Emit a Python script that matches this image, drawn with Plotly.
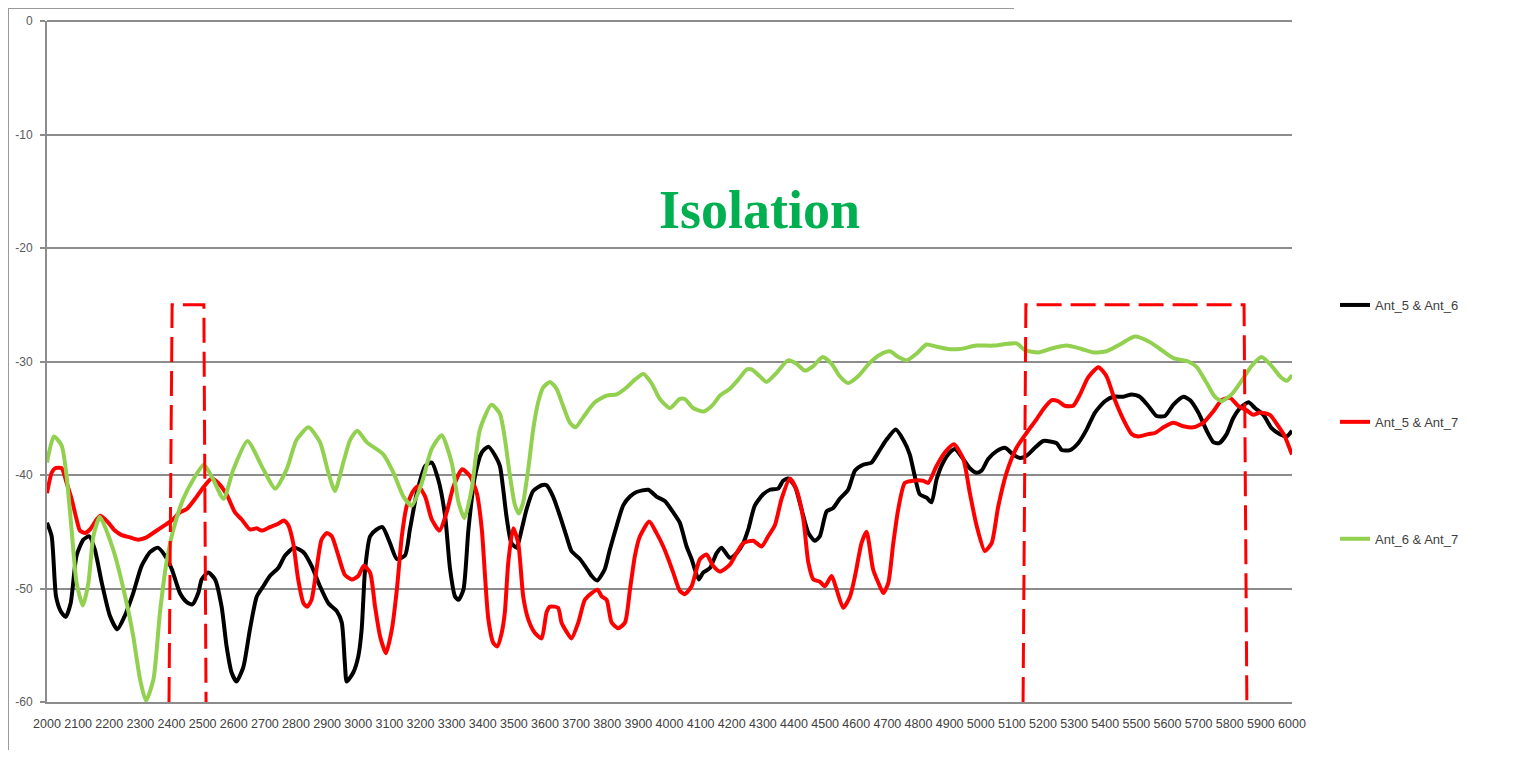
import plotly.graph_objects as go

# ---------------- data (frequency in MHz, isolation in dB) ----------------
freq_56 = [2000, 2015, 2029, 2044, 2060, 2076, 2095, 2117, 2136, 2154, 2176, 2202, 2226, 2250, 2277,
           2304, 2331, 2356, 2379, 2401, 2427, 2449, 2467, 2486, 2497, 2518, 2540, 2561, 2577, 2593,
           2609, 2631, 2652, 2674, 2695, 2716, 2743, 2765, 2794, 2824, 2850, 2877, 2904, 2931, 2947,
           2957, 2963, 2984, 3000, 3011, 3022, 3038, 3059, 3078, 3102, 3124, 3150, 3166, 3188, 3215,
           3236, 3257, 3279, 3295, 3311, 3322, 3338, 3354, 3375, 3397, 3418, 3440, 3455, 3466, 3476,
           3492, 3509, 3525, 3541, 3562, 3589, 3605, 3626, 3648, 3669, 3685, 3712, 3733, 3750, 3768,
           3792, 3808, 3830, 3851, 3873, 3894, 3932, 3958, 3985, 4012, 4033, 4055, 4071, 4094, 4108,
           4130, 4151, 4167, 4194, 4215, 4237, 4253, 4274, 4301, 4323, 4349, 4365, 4381, 4403, 4424,
           4446, 4467, 4483, 4505, 4526, 4547, 4574, 4596, 4622, 4649, 4671, 4697, 4727, 4751, 4772,
           4788, 4804, 4826, 4842, 4858, 4879, 4901, 4917, 4944, 4965, 4987, 5003, 5024, 5051, 5078,
           5104, 5126, 5147, 5174, 5201, 5244, 5260, 5287, 5313, 5340, 5367, 5399, 5426, 5458, 5485,
           5511, 5538, 5565, 5592, 5619, 5651, 5672, 5699, 5726, 5747, 5766, 5790, 5811, 5833, 5860,
           5881, 5908, 5935, 5961, 5983, 6000]
iso_56 = [-44.2, -45.4, -50.7, -52.0, -52.5, -51.3, -47.1, -45.7, -45.4, -46.6, -49.5, -52.4, -53.6, -52.4, -50.4,
          -48.0, -46.8, -46.4, -47.1, -48.3, -50.4, -51.2, -51.4, -50.4, -49.2, -48.6, -49.2, -51.6, -55.1, -57.4,
          -58.2, -56.9, -53.6, -50.7, -49.8, -48.9, -48.2, -47.1, -46.4, -46.8, -48.0, -49.8, -51.3, -52.0, -53.0,
          -56.6, -58.2, -57.4, -56.0, -53.6, -48.3, -45.4, -44.8, -44.6, -46.0, -47.4, -47.1, -44.8, -41.6, -39.2,
          -38.9, -40.4, -43.6, -48.3, -50.7, -51.0, -50.1, -44.8, -40.1, -38.0, -37.5, -38.3, -39.2, -41.3, -43.6,
          -46.0, -46.4, -44.8, -43.0, -41.4, -40.9, -40.9, -41.9, -43.6, -45.4, -46.7, -47.4, -48.2, -48.9, -49.3,
          -48.3, -46.6, -44.5, -42.7, -41.9, -41.5, -41.3, -41.9, -42.3, -43.3, -44.2, -46.3, -47.4, -49.2, -48.6,
          -48.2, -46.9, -46.4, -47.3, -46.9, -46.0, -44.8, -42.7, -41.7, -41.3, -41.2, -40.5, -40.3, -41.0, -43.0,
          -45.1, -45.8, -45.4, -43.2, -42.9, -42.1, -41.3, -39.6, -39.1, -38.9, -38.0, -36.9, -36.0, -36.9, -38.2,
          -40.1, -41.7, -42.0, -42.4, -40.4, -38.9, -38.0, -37.7, -38.6, -39.4, -39.8, -39.6, -38.6, -37.9, -37.6,
          -38.2, -38.5, -38.3, -37.6, -37.0, -37.2, -37.8, -37.8, -37.2, -36.0, -34.5, -33.5, -33.1, -33.1, -32.9,
          -33.1, -33.9, -34.8, -34.8, -33.8, -33.1, -33.4, -34.5, -36.1, -37.1, -37.2, -36.4, -35.0, -34.1, -33.6,
          -34.1, -34.7, -35.9, -36.4, -36.6, -36.1]

freq_57 = [2000, 2015, 2026, 2047, 2063, 2079, 2095, 2106, 2122, 2138, 2160, 2172, 2197, 2218, 2240,
           2267, 2293, 2320, 2347, 2374, 2401, 2427, 2449, 2476, 2502, 2529, 2550, 2577, 2604, 2625,
           2652, 2674, 2690, 2716, 2743, 2761, 2775, 2791, 2807, 2824, 2836, 2850, 2866, 2882, 2899,
           2915, 2936, 2957, 2979, 3000, 3018, 3038, 3054, 3070, 3089, 3108, 3124, 3140, 3156, 3177,
           3193, 3215, 3236, 3261, 3284, 3306, 3334, 3359, 3381, 3397, 3408, 3418, 3434, 3447, 3461,
           3471, 3482, 3498, 3514, 3530, 3546, 3567, 3589, 3605, 3616, 3642, 3653, 3669, 3685, 3707,
           3728, 3750, 3769, 3782, 3798, 3814, 3835, 3857, 3873, 3889, 3905, 3935, 3958, 3980, 3996,
           4012, 4033, 4049, 4071, 4098, 4119, 4140, 4162, 4194, 4215, 4237, 4269, 4296, 4317, 4339,
           4360, 4387, 4408, 4430, 4446, 4462, 4483, 4499, 4521, 4537, 4558, 4580, 4596, 4617, 4633,
           4654, 4671, 4687, 4703, 4719, 4735, 4756, 4783, 4815, 4831, 4858, 4885, 4914, 4944, 4965,
           4987, 5013, 5035, 5056, 5083, 5115, 5147, 5179, 5201, 5228, 5249, 5270, 5297, 5319, 5345,
           5378, 5404, 5431, 5458, 5485, 5506, 5538, 5560, 5587, 5619, 5651, 5683, 5715, 5747, 5774,
           5801, 5827, 5854, 5876, 5897, 5929, 5956, 5977, 5990, 6000]
iso_57 = [-41.6, -39.8, -39.4, -39.4, -40.7, -42.1, -43.9, -44.9, -45.1, -44.8, -43.9, -43.6, -44.2, -44.9, -45.3,
          -45.5, -45.7, -45.5, -45.0, -44.5, -44.0, -43.3, -43.0, -42.1, -41.1, -40.3, -40.7, -41.7, -43.3, -43.9,
          -44.8, -44.7, -44.9, -44.6, -44.3, -44.0, -44.4, -46.0, -49.2, -51.3, -51.6, -51.0, -48.3, -45.7, -45.1,
          -45.4, -47.1, -48.8, -49.2, -48.9, -48.0, -48.6, -51.6, -54.2, -55.7, -53.6, -50.1, -45.4, -42.7, -41.4,
          -41.0, -41.9, -43.9, -44.9, -43.3, -41.0, -39.5, -40.1, -41.6, -44.8, -49.2, -52.7, -54.8, -55.1, -53.9,
          -52.1, -47.7, -44.7, -46.0, -50.7, -52.7, -53.9, -54.4, -52.1, -51.6, -51.7, -53.0, -53.8, -54.4, -53.0,
          -51.0, -50.4, -50.1, -50.7, -51.0, -53.0, -53.5, -53.0, -50.1, -47.1, -45.4, -44.1, -45.1, -46.3, -47.4,
          -48.6, -50.2, -50.5, -49.8, -47.4, -47.0, -48.0, -48.5, -47.9, -46.9, -46.0, -45.8, -46.3, -45.4, -44.4,
          -42.1, -40.3, -41.3, -43.9, -47.7, -49.2, -49.4, -49.8, -48.9, -50.1, -51.7, -50.7, -48.9, -46.0, -45.0,
          -48.3, -49.5, -50.4, -49.5, -46.0, -43.0, -40.7, -40.5, -40.5, -40.7, -39.2, -38.0, -37.3, -38.6, -41.6,
          -44.5, -46.7, -46.0, -42.8, -39.8, -37.6, -36.3, -35.1, -34.2, -33.4, -33.5, -33.9, -33.9, -32.9, -31.4,
          -30.5, -31.3, -33.4, -35.1, -36.4, -36.6, -36.4, -36.3, -35.8, -35.4, -35.7, -35.8, -35.4, -34.4, -33.4,
          -33.2, -33.9, -34.3, -34.7, -34.5, -34.7, -35.7, -36.6, -37.5, -38.2]

freq_67 = [2000, 2022, 2047, 2063, 2079, 2095, 2115, 2133, 2149, 2170, 2213, 2256, 2277, 2299, 2318,
           2342, 2363, 2384, 2406, 2438, 2470, 2504, 2534, 2567, 2599, 2644, 2695, 2733, 2770, 2802,
           2840, 2877, 2904, 2925, 2952, 2974, 2997, 3027, 3081, 3113, 3145, 3172, 3204, 3236, 3268,
           3300, 3322, 3341, 3364, 3391, 3428, 3455, 3471, 3487, 3503, 3516, 3530, 3546, 3562, 3578,
           3594, 3616, 3637, 3658, 3680, 3698, 3723, 3760, 3798, 3830, 3857, 3889, 3916, 3942, 3969,
           4001, 4033, 4049, 4076, 4110, 4140, 4162, 4194, 4221, 4248, 4264, 4290, 4312, 4344, 4381,
           4408, 4435, 4462, 4492, 4521, 4547, 4574, 4606, 4644, 4676, 4708, 4735, 4762, 4794, 4826,
           4858, 4895, 4933, 4986, 5040, 5115, 5142, 5185, 5222, 5276, 5324, 5362, 5404, 5447, 5495,
           5544, 5576, 5619, 5667, 5694, 5726, 5752, 5774, 5806, 5838, 5870, 5902, 5935, 5961, 5983,
           6000]
iso_67 = [-38.9, -36.6, -37.4, -40.1, -44.8, -49.5, -51.5, -49.5, -45.4, -43.7, -46.6, -51.3, -54.2, -58.0, -59.9,
          -58.0, -52.1, -47.7, -44.8, -42.1, -40.4, -39.1, -40.4, -42.1, -39.5, -37.0, -39.5, -41.2, -39.5, -36.9,
          -35.8, -37.1, -39.8, -41.4, -38.9, -36.9, -36.1, -37.1, -38.2, -39.8, -41.9, -42.7, -40.7, -37.7, -36.5,
          -38.9, -42.4, -43.8, -41.3, -36.0, -33.8, -34.6, -36.8, -40.0, -42.6, -43.4, -42.4, -39.5, -36.0, -33.6,
          -32.3, -31.8, -32.4, -33.9, -35.4, -35.8, -34.9, -33.6, -33.0, -32.9, -32.4, -31.6, -31.1, -31.9, -33.3,
          -34.1, -33.3, -33.3, -34.1, -34.4, -33.8, -33.0, -32.4, -31.6, -30.7, -30.7, -31.3, -31.8, -31.0, -29.9,
          -30.2, -30.8, -30.4, -29.6, -30.2, -31.3, -31.9, -31.3, -30.1, -29.4, -29.1, -29.6, -29.9, -29.3, -28.5,
          -28.7, -28.9, -28.9, -28.6, -28.6, -28.4, -29.0, -29.2, -28.9, -28.6, -28.9, -29.2, -29.1, -28.5, -27.8,
          -28.3, -28.9, -29.7, -30.0, -30.5, -31.9, -33.1, -33.5, -32.9, -31.7, -30.4, -29.6, -30.4, -31.3, -31.7,
          -31.2]

series_names = ["Ant_5 & Ant_6", "Ant_5 & Ant_7", "Ant_6 & Ant_7"]
series_colors = ["#000000", "#FF0000", "#92D050"]

# highlighted bands: (bottom-left, top-left, top-right, bottom-right) frequencies
band_edges = [(2392, 2402, 2504, 2511), (5136, 5145, 5846, 5855)]
band_top = -25

y_ticks = [0, -10, -20, -30, -40, -50, -60]
title_text = "Isolation"

# ---------------- figure ----------------
FIG_W, FIG_H = 1498, 742
ML, MR, MT, MB = 39, 214, 13, 48
PW = FIG_W - ML - MR
PH = FIG_H - MT - MB


def px(fx):
    return (fx - ML) / PW


def py(fy):
    return 1 - (fy - MT) / PH


fig = go.Figure()
for name, fx, fy, col in zip(series_names, [freq_56, freq_57, freq_67],
                             [iso_56, iso_57, iso_67], series_colors):
    fig.add_trace(go.Scatter(
        x=fx, y=fy, mode="lines", name=name, legendgroup=name,
        line=dict(color=col, width=4, shape="spline", smoothing=0.6),
        hoverinfo="x+y+name",
    ))

shapes = []
for lb, lt, rt, rb in band_edges:
    shapes.append(dict(
        type="path", xref="x", yref="y",
        path=f"M {lb},-60 L {lt},{band_top} L {rt},{band_top} L {rb},-60",
        line=dict(color="#FF0000", width=3, dash="25px,9px"),
        layer="above",
    ))
# slide frame lines (left and top)
shapes.append(dict(type="line", xref="paper", yref="paper",
                   x0=px(0.5), x1=px(0.5), y0=py(0), y1=py(FIG_H),
                   line=dict(color="#9a9a9a", width=1)))
shapes.append(dict(type="line", xref="paper", yref="paper",
                   x0=px(0), x1=px(1006), y0=py(0.5), y1=py(0.5),
                   line=dict(color="#9a9a9a", width=1)))

grid_col = "#8c8c8c"
fig.update_layout(
    width=FIG_W, height=FIG_H,
    margin=dict(l=ML, r=MR, t=MT, b=MB, pad=0, autoexpand=False),
    paper_bgcolor="white", plot_bgcolor="white",
    showlegend=True,
    legend=dict(
        xref="container", yref="container",
        x=1327 / FIG_W, xanchor="left", y=1 - 282 / FIG_H, yanchor="top",
        tracegroupgap=97, bgcolor="rgba(0,0,0,0)",
        font=dict(family="Liberation Sans, Arial", size=13, color="#404040"),
        itemwidth=30,
    ),
    shapes=shapes,
    annotations=[dict(
        text=title_text, xref="paper", yref="paper",
        x=px(752), y=py(202), xanchor="center", yanchor="middle",
        showarrow=False,
        font=dict(family="Liberation Serif, Times New Roman, serif", size=54,
                  color="#00B050", weight="bold"),
    )],
    xaxis=dict(
        range=[2000, 6000], tickmode="linear", tick0=2000, dtick=100,
        showgrid=False, zeroline=False, showline=True, linecolor=grid_col, linewidth=2,
        ticks="", tickangle=0, ticklabelstandoff=9, automargin=False,
        tickfont=dict(family="Liberation Sans, Arial", size=12.5, color="#404040"),
    ),
    yaxis=dict(
        range=[-60, 0], tickmode="array", tickvals=y_ticks, ticktext=[str(v) for v in y_ticks],
        showgrid=True, gridcolor=grid_col, gridwidth=1.5,
        zeroline=True, zerolinecolor=grid_col, zerolinewidth=1.5,
        showline=True, linecolor=grid_col, linewidth=2,
        ticks="outside", ticklen=5, tickcolor=grid_col, tickwidth=1.5,
        ticklabelstandoff=5, automargin=False,
        tickfont=dict(family="Liberation Sans, Arial", size=12, color="#595959"),
    ),
)

fig.write_html("out.html")
